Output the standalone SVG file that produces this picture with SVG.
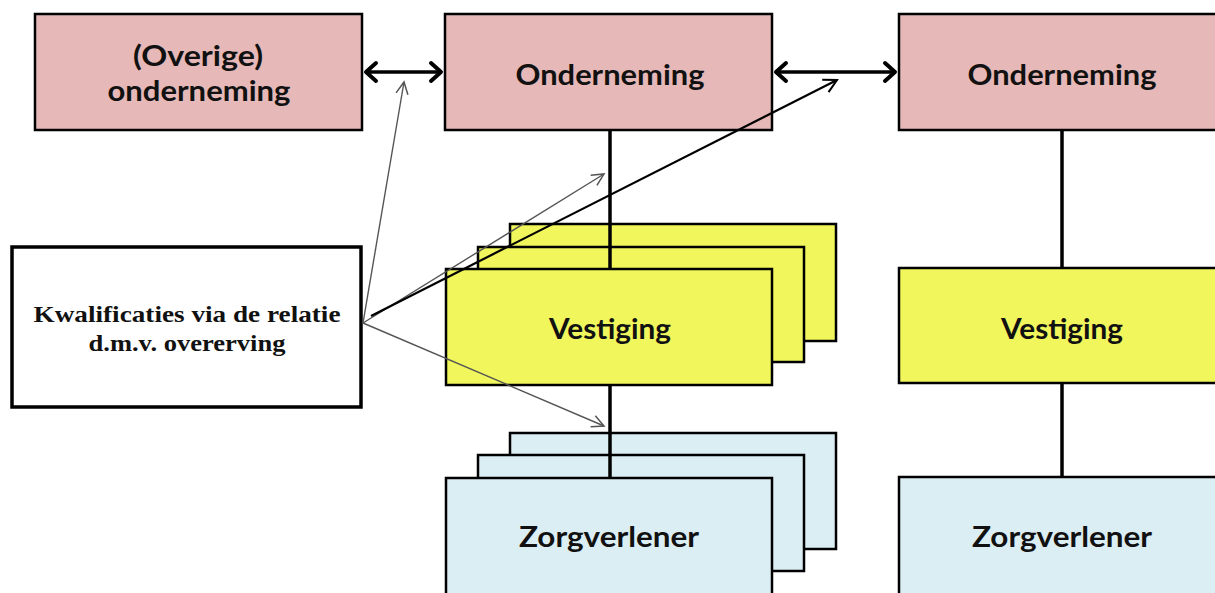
<svg xmlns="http://www.w3.org/2000/svg" width="1215" height="593" viewBox="0 0 1215 593">
<style>
.box{stroke:#000;stroke-width:2.5}
.pink{fill:#E6B8B7}
.yel{fill:#F1F65C}
.blu{fill:#DBEEF4}
.wht{fill:#fff;stroke-width:3.5}
.lbl{font-family:Lato,"Liberation Sans",sans-serif;font-weight:bold;font-size:28px;fill:#111;text-anchor:middle}
.ser{font-family:"Liberation Serif",serif;font-weight:bold;font-size:23px;fill:#111;text-anchor:middle}
.tree{stroke:#000;stroke-width:3.5;fill:none}
.bi{stroke:#000;stroke-width:3.5;fill:none}
.thin{stroke:#555;stroke-width:1.4;fill:none}
.blk{stroke:#000;stroke-width:2.2;fill:none}
</style>
<defs>
<marker id="bold" markerUnits="userSpaceOnUse" markerWidth="30" markerHeight="30" viewBox="-15 -15 30 30" refX="0" refY="0" orient="auto-start-reverse">
<path d="M-10,-9 L0,0 L-10,9" stroke="#000" stroke-width="4" fill="none" stroke-linecap="round" stroke-linejoin="round"/>
</marker>
<marker id="thinG" markerUnits="userSpaceOnUse" markerWidth="30" markerHeight="30" viewBox="-15 -15 30 30" refX="0" refY="0" orient="auto">
<path d="M-12,-6 L0,0 L-12,6" stroke="#555" stroke-width="1.5" fill="none"/>
</marker>
<marker id="thinB" markerUnits="userSpaceOnUse" markerWidth="30" markerHeight="30" viewBox="-15 -15 30 30" refX="0" refY="0" orient="auto">
<path d="M-13,-7 L0,0 L-13,7" stroke="#000" stroke-width="2" fill="none"/>
</marker>
</defs>
<rect width="1215" height="593" fill="#fff"/>

<g id="overige-onderneming">
<rect class="box pink" x="35" y="14" width="327" height="116"/>
<text class="lbl" x="198" y="66" textLength="130" lengthAdjust="spacingAndGlyphs">(Overige)</text>
<text class="lbl" x="199" y="101" textLength="183" lengthAdjust="spacingAndGlyphs">onderneming</text>
</g>
<g id="onderneming-1">
<rect class="box pink" x="445" y="14" width="327" height="116"/>
<text class="lbl" x="610" y="85" textLength="189" lengthAdjust="spacingAndGlyphs">Onderneming</text>
</g>
<g id="onderneming-2">
<rect class="box pink" x="899" y="14" width="330" height="116"/>
<text class="lbl" x="1062" y="85" textLength="189" lengthAdjust="spacingAndGlyphs">Onderneming</text>
</g>
<g id="vestiging-stack">
<rect class="box yel" x="510" y="224" width="326" height="117"/>
<rect class="box yel" x="478" y="247" width="326" height="115"/>
<rect class="box yel" x="446" y="269" width="326" height="116"/>
<text class="lbl" x="610" y="339" textLength="122" lengthAdjust="spacingAndGlyphs">Vestiging</text>
</g>
<g id="vestiging-2">
<rect class="box yel" x="899" y="268" width="330" height="115"/>
<text class="lbl" x="1062" y="339" textLength="122" lengthAdjust="spacingAndGlyphs">Vestiging</text>
</g>
<g id="zorgverlener-stack">
<rect class="box blu" x="510" y="433" width="326" height="116"/>
<rect class="box blu" x="478" y="455" width="326" height="116"/>
<rect class="box blu" x="446" y="478" width="326" height="125"/>
<text class="lbl" x="609" y="547" textLength="180" lengthAdjust="spacingAndGlyphs">Zorgverlener</text>
</g>
<g id="zorgverlener-2">
<rect class="box blu" x="899" y="477" width="330" height="125"/>
<text class="lbl" x="1062" y="547" textLength="180" lengthAdjust="spacingAndGlyphs">Zorgverlener</text>
</g>
<g id="kwalificaties">
<rect class="box wht" x="12" y="247" width="349" height="160"/>
<text class="ser" x="187" y="322" textLength="307" lengthAdjust="spacingAndGlyphs">Kwalificaties via de relatie</text>
<text class="ser" x="187" y="351" textLength="197" lengthAdjust="spacingAndGlyphs">d.m.v. overerving</text>
</g>

<g id="connectors">
<line class="tree" x1="610" y1="130" x2="610" y2="269"/>
<line class="tree" x1="610" y1="385" x2="610" y2="478"/>
<line class="tree" x1="1062" y1="130" x2="1062" y2="268"/>
<line class="tree" x1="1062" y1="383" x2="1062" y2="477"/>
<line class="bi" x1="366" y1="72" x2="441" y2="72" marker-start="url(#bold)" marker-end="url(#bold)"/>
<line class="bi" x1="776" y1="72" x2="895" y2="72" marker-start="url(#bold)" marker-end="url(#bold)"/>
<line class="thin" x1="363" y1="323" x2="404" y2="82" marker-end="url(#thinG)"/>
<line class="thin" x1="363" y1="323" x2="604" y2="174" marker-end="url(#thinG)"/>
<line class="thin" x1="363" y1="323" x2="604" y2="426" marker-end="url(#thinG)"/>
<line class="blk" x1="371" y1="316" x2="837" y2="80" marker-end="url(#thinB)"/>
</g>
</svg>
